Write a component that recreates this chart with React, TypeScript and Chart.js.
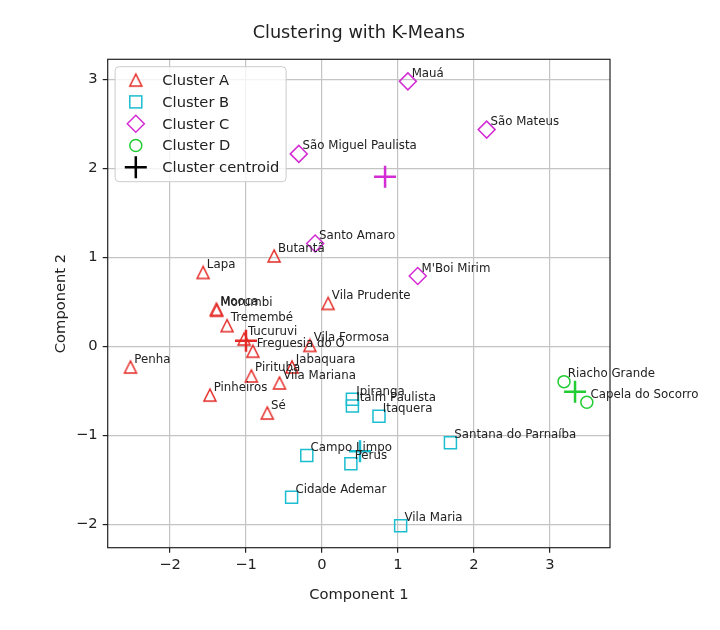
import React, { useEffect, useRef } from "react";
import { Chart, registerables } from "chart.js";

Chart.register(...registerables);

// ---------- data ----------
const namesA = ["Butantã", "Lapa", "Mooca", "Morumbi", "Tremembé", "Tucuruvi", "Freguesia do Ó", "Vila Formosa", "Vila Prudente", "Penha", "Pirituba", "Jabaquara", "Vila Mariana", "Pinheiros", "Sé"];
const xA = [-0.63, -1.565, -1.39, -1.385, -1.25, -1.025, -0.91, -0.16, 0.08, -2.52, -0.93, -0.395, -0.56, -1.475, -0.72];
const yA = [1.015, 0.83, 0.415, 0.405, 0.232, 0.082, -0.055, 0.01, 0.482, -0.233, -0.333, -0.232, -0.412, -0.548, -0.75];

const namesB = ["Ipiranga", "Itaim Paulista", "Itaquera", "Santana do Parnaíba", "Campo Limpo", "Perus", "Cidade Ademar", "Vila Maria"];
const xB = [0.4, 0.4, 0.75, 1.69, -0.2, 0.38, -0.4, 1.035];
const yB = [-0.595, -0.67, -0.785, -1.083, -1.228, -1.32, -1.695, -2.015];

const namesC = ["Mauá", "São Mateus", "São Miguel Paulista", "Santo Amaro", "M'Boi Mirim"];
const xC = [1.13, 2.167, -0.305, -0.09, 1.26];
const yC = [2.977, 2.435, 2.162, 1.155, 0.79];

const namesD = ["Riacho Grande", "Capela do Socorro"];
const xD = [3.185, 3.485];
const yD = [-0.397, -0.628];

const centroidX = [-1.0, 0.5, 0.83, 3.33];
const centroidY = [0.062, -1.18, 1.905, -0.512];

const xTicks = [-2, -1, 0, 1, 2, 3];
const yTicks = [-2, -1, 0, 1, 2, 3];

const legendLabels = ["Cluster A", "Cluster B", "Cluster C", "Cluster D", "Cluster centroid"];

const titleText = "Clustering with K-Means";
const xTitle = "Component 1";
const yTitle = "Component 2";

// ---------- styles ----------
const RED = "#e42a26";
const CYAN = "#1bbdd0";
const MAGENTA = "#d42cd4";
const GREEN = "#22cc33";
const centroidColors = [RED, CYAN, MAGENTA, GREEN];
const FONT = '"DejaVu Sans", "Liberation Sans", sans-serif';

function triangleCanvas(color: string): HTMLCanvasElement {
  const c = document.createElement("canvas");
  c.width = 16;
  c.height = 16;
  const g = c.getContext("2d")!;
  g.strokeStyle = color;
  g.lineWidth = 1.5;
  g.beginPath();
  g.moveTo(8, 2);
  g.lineTo(2, 14);
  g.lineTo(14, 14);
  g.closePath();
  g.stroke();
  return c;
}

const clusters = [
  { names: namesA, xs: xA, ys: yA },
  { names: namesB, xs: xB, ys: yB },
  { names: namesC, xs: xC, ys: yC },
  { names: namesD, xs: xD, ys: yD },
];

function pts(xs: number[], ys: number[]) {
  return xs.map((v, i) => ({ x: v, y: ys[i] }));
}

export default function App() {
  const ref = useRef<HTMLCanvasElement | null>(null);

  useEffect(() => {
    if (!ref.current) return;
    const tri = triangleCanvas(RED);

    const overlay = {
      id: "overlay",
      afterDatasetsDraw(chart: any) {
        const { ctx, chartArea: a, scales } = chart;
        const sx = scales.x;
        const sy = scales.y;
        ctx.save();
        // frame
        ctx.strokeStyle = "#222";
        ctx.lineWidth = 1.2;
        ctx.strokeRect(a.left, a.top, a.right - a.left, a.bottom - a.top);

        // point labels
        ctx.font = `11.8px ${FONT}`;
        ctx.fillStyle = "#222";
        ctx.textAlign = "left";
        ctx.textBaseline = "alphabetic";
        clusters.forEach((c) => {
          c.names.forEach((n, i) => {
            ctx.fillText(n, sx.getPixelForValue(c.xs[i] + 0.05), sy.getPixelForValue(c.ys[i] + 0.05));
          });
        });

        // legend
        const lx = a.left + 7.4;
        const ly = a.top + 7.4;
        const lw = 171;
        const lh = 115;
        ctx.beginPath();
        (ctx as any).roundRect(lx, ly, lw, lh, 4);
        ctx.fillStyle = "rgba(255,255,255,0.8)";
        ctx.fill();
        ctx.strokeStyle = "#cccccc";
        ctx.lineWidth = 1;
        ctx.stroke();

        const mx = lx + 20.7;
        const tx = lx + 47.2;
        const row0 = ly + 13.4;
        const step = 21.8;
        ctx.font = `14.7px ${FONT}`;
        ctx.textBaseline = "middle";
        legendLabels.forEach((lab, i) => {
          const cy = row0 + i * step;
          ctx.lineWidth = 1.5;
          if (i === 0) {
            ctx.drawImage(tri, mx - 8, cy - 8);
          } else if (i === 1) {
            ctx.strokeStyle = CYAN;
            ctx.strokeRect(mx - 6, cy - 6, 12, 12);
          } else if (i === 2) {
            ctx.strokeStyle = MAGENTA;
            ctx.beginPath();
            ctx.moveTo(mx, cy - 8.5);
            ctx.lineTo(mx + 8.5, cy);
            ctx.lineTo(mx, cy + 8.5);
            ctx.lineTo(mx - 8.5, cy);
            ctx.closePath();
            ctx.stroke();
          } else if (i === 3) {
            ctx.strokeStyle = GREEN;
            ctx.beginPath();
            ctx.arc(mx, cy, 6, 0, Math.PI * 2);
            ctx.stroke();
          } else {
            ctx.strokeStyle = "#000";
            ctx.lineWidth = 2.5;
            ctx.beginPath();
            ctx.moveTo(mx - 11, cy);
            ctx.lineTo(mx + 11, cy);
            ctx.moveTo(mx, cy - 11);
            ctx.lineTo(mx, cy + 11);
            ctx.stroke();
          }
          ctx.fillStyle = "#222";
          ctx.fillText(lab, tx, cy + 1);
        });

        // title
        ctx.font = `17.7px ${FONT}`;
        ctx.textAlign = "center";
        ctx.textBaseline = "middle";
        ctx.fillStyle = "#222";
        ctx.fillText(titleText, (a.left + a.right) / 2, 33);
        ctx.restore();
      },
    };

    const tickFmt = (v: any) => String(v).replace("-", "\u2212");

    const chart = new Chart(ref.current, {
      type: "scatter",
      data: {
        datasets: [
          {
            label: legendLabels[0],
            data: pts(xA, yA),
            pointStyle: tri as any,
            pointRadius: 7,
            borderColor: RED,
            backgroundColor: "transparent",
          },
          {
            label: legendLabels[1],
            data: pts(xB, yB),
            pointStyle: "rect",
            pointRadius: 8.49,
            borderColor: CYAN,
            backgroundColor: "transparent",
            pointBorderWidth: 1.5,
          },
          {
            label: legendLabels[2],
            data: pts(xC, yC),
            pointStyle: "rectRot",
            pointRadius: 8.49,
            borderColor: MAGENTA,
            backgroundColor: "transparent",
            pointBorderWidth: 1.5,
          },
          {
            label: legendLabels[3],
            data: pts(xD, yD),
            pointStyle: "circle",
            pointRadius: 6,
            borderColor: GREEN,
            backgroundColor: "transparent",
            pointBorderWidth: 1.5,
          },
          {
            label: legendLabels[4],
            data: pts(centroidX, centroidY),
            pointStyle: "cross",
            pointRadius: 11,
            pointBorderColor: centroidColors,
            borderColor: centroidColors,
            backgroundColor: "transparent",
            pointBorderWidth: 2.5,
          } as any,
        ],
      },
      options: {
        responsive: false,
        animation: false,
        events: [],
        layout: { padding: { top: 59.3, right: 110, left: 0, bottom: 0 } },
        plugins: {
          legend: { display: false },
          title: { display: false },
          tooltip: { enabled: false },
        },
        scales: {
          x: {
            type: "linear",
            min: -2.82,
            max: 3.79,
            afterBuildTicks: (s: any) => {
              s.ticks = xTicks.map((v) => ({ value: v }));
            },
            afterFit: (s: any) => {
              s.height = 82.3;
            },
            ticks: {
              includeBounds: false,
              autoSkip: false,
              maxRotation: 0,
              padding: 4,
              color: "#222",
              font: { family: FONT, size: 14.7 },
              callback: tickFmt,
            },
            grid: {
              color: "#c4c4c4",
              lineWidth: 1.2,
              tickLength: 5,
              tickColor: "#222",
              tickWidth: 1.2,
            },
            border: { display: false },
            title: {
              display: true,
              text: xTitle,
              color: "#222",
              font: { family: FONT, size: 14.7 },
              padding: { top: 0, bottom: 26.2 },
            },
          },
          y: {
            type: "linear",
            min: -2.263,
            max: 3.225,
            afterBuildTicks: (s: any) => {
              s.ticks = yTicks.map((v) => ({ value: v }));
            },
            afterFit: (s: any) => {
              s.width = 107.7;
            },
            ticks: {
              includeBounds: false,
              autoSkip: false,
              padding: 5,
              color: "#222",
              font: { family: FONT, size: 14.7 },
              callback: tickFmt,
            },
            grid: {
              color: "#c4c4c4",
              lineWidth: 1.2,
              tickLength: 5,
              tickColor: "#222",
              tickWidth: 1.2,
            },
            border: { display: false },
            title: {
              display: true,
              text: yTitle,
              color: "#222",
              font: { family: FONT, size: 14.7 },
              padding: { top: 51.9, bottom: 0 },
            },
          },
        },
      },
      plugins: [overlay],
    } as any);

    return () => chart.destroy();
  }, []);

  return (
    <div style={{ position: "absolute", left: 0, top: 0, width: 720, height: 630, background: "#fff" }}>
      <canvas ref={ref} width={720} height={630} style={{ display: "block" }} />
    </div>
  );
}
